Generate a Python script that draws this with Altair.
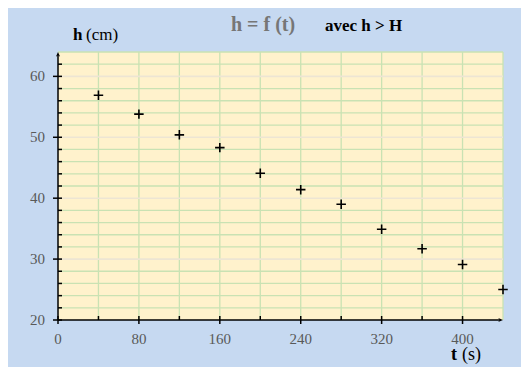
import altair as alt
import pandas as pd

# data
t_values = [40, 80, 120, 160, 200, 240, 280, 320, 360, 400, 440]
h_values = [56.9, 53.8, 50.4, 48.3, 44.1, 41.4, 39.0, 34.9, 31.7, 29.1, 25.0]
x_labels = [0, 80, 160, 240, 320, 400]
y_labels = [20, 30, 40, 50, 60]
x_grid = [40, 80, 120, 160, 200, 240, 280, 320, 360, 400, 440]
y_grid_minor = [22, 24, 26, 28, 32, 34, 36, 38, 42, 44, 46, 48, 52, 54, 56, 58, 62, 64]
y_grid_major = [30, 40, 50, 60]
x_minor_ticks = [40, 120, 200, 280, 360]
y_minor_ticks = [22, 24, 26, 28, 32, 34, 36, 38, 42, 44, 46, 48, 52, 54, 56, 58, 62]

W, H = 445, 268
BLUE = "#C6D9F1"
YELLOW = "#FFF2CC"
GREEN = "#C9E2B3"
LIGHT = "#EDE5D3"
GREY = "#595959"
SERIF = "Liberation Serif"

xs = alt.Scale(domain=[0, 440], nice=False, zero=False)
ys = alt.Scale(domain=[20, 64], nice=False, zero=False)

pts = pd.DataFrame({"t": t_values, "h": h_values})

def X(f):
    return alt.X(f, scale=xs, axis=None)

def Y(f):
    return alt.Y(f, scale=ys, axis=None)

vgrid = alt.Chart(pd.DataFrame({"v": x_grid})).mark_rule(color=GREEN, strokeWidth=1.3).encode(x=X("v:Q"))
hgrid_minor = alt.Chart(pd.DataFrame({"v": y_grid_minor})).mark_rule(color=GREEN, strokeWidth=1.3).encode(y=Y("v:Q"))
hgrid_major = alt.Chart(pd.DataFrame({"v": y_grid_major})).mark_rule(color=LIGHT, strokeWidth=1.6).encode(y=Y("v:Q"))

# axis lines
x_domain = alt.Chart(pd.DataFrame({"a": [0]})).mark_rule(color="black", strokeWidth=1.5).encode(
    x=alt.value(0), x2=alt.value(W - 2), y=alt.value(H))
y_domain = alt.Chart(pd.DataFrame({"a": [0]})).mark_rule(color="black", strokeWidth=1.5).encode(
    x=alt.value(0), y=alt.value(2), y2=alt.value(H))

# ticks
xmaj = alt.Chart(pd.DataFrame({"v": x_labels})).mark_rule(color="black", strokeWidth=1.5).encode(
    x=X("v:Q"), y=alt.value(H - 4), y2=alt.value(H + 4))
xmin = alt.Chart(pd.DataFrame({"v": x_minor_ticks})).mark_rule(color="black", strokeWidth=1.5).encode(
    x=X("v:Q"), y=alt.value(H - 4), y2=alt.value(H))
ymaj = alt.Chart(pd.DataFrame({"v": y_labels})).mark_rule(color="black", strokeWidth=1.5).encode(
    y=Y("v:Q"), x=alt.value(-5), x2=alt.value(4))
ymin = alt.Chart(pd.DataFrame({"v": y_minor_ticks})).mark_rule(color="black", strokeWidth=1.5).encode(
    y=Y("v:Q"), x=alt.value(0), x2=alt.value(4))

# tick labels
xlab = alt.Chart(pd.DataFrame({"v": x_labels})).mark_text(
    font=SERIF, fontSize=15, color=GREY, align="center", baseline="top").encode(
    x=X("v:Q"), y=alt.value(H + 12), text="v:Q")
ylab = alt.Chart(pd.DataFrame({"v": y_labels})).mark_text(
    font=SERIF, fontSize=15, color=GREY, align="right", baseline="middle").encode(
    y=Y("v:Q"), x=alt.value(-13), text="v:Q")

points = alt.Chart(pts).mark_point(
    shape="M-1,0L1,0M0,-1L0,1", size=90, color="black", strokeWidth=1.6, filled=False, opacity=1
).encode(x=X("t:Q"), y=Y("h:Q"))

arrow_x = alt.Chart(pd.DataFrame({"a": [0]})).mark_point(
    shape="M0,0L-1.6,-0.7L-1.1,0L-1.6,0.7Z", size=36, filled=True, color="black", opacity=1
).encode(x=alt.value(W), y=alt.value(H))
arrow_y = alt.Chart(pd.DataFrame({"a": [0]})).mark_point(
    shape="M0,0L-0.7,1.6L0,1.1L0.7,1.6Z", size=36, filled=True, color="black", opacity=1
).encode(x=alt.value(0), y=alt.value(0))

def txt(s, x, y, size, bold, color):
    return alt.Chart(pd.DataFrame({"s": [s]})).mark_text(
        font=SERIF, fontSize=size, fontWeight="bold" if bold else "normal", color=color,
        align="left", baseline="alphabetic"
    ).encode(text="s:N", x=alt.value(x), y=alt.value(y))

texts = [
    txt("h", 15, -12, 17, True, "black"),
    txt("(cm)", 28, -12, 17, False, "black"),
    txt("h = f (t)", 173, -21, 20, True, "#767676"),
    txt("avec h > H", 267, -21, 17, True, "black"),
    txt("t", 393, 308, 18, True, "black"),
    txt("(s)", 404, 308, 18, False, "black"),
]

chart = alt.layer(
    vgrid, hgrid_minor, hgrid_major, x_domain, y_domain, xmaj, xmin, ymaj, ymin,
    xlab, ylab, points, arrow_x, arrow_y, *texts
).properties(
    width=W, height=H,
    autosize=alt.AutoSizeParams(type="none"),
    padding={"left": 50, "top": 44, "right": 18, "bottom": 47},
    background=BLUE,
).configure_view(fill=YELLOW, stroke=None)

chart.save("out.html", embed_options={"renderer": "svg", "actions": False})
